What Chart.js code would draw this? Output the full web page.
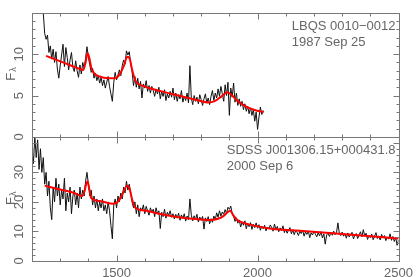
<!DOCTYPE html>
<html>
<head>
<meta charset="utf-8">
<script src="https://cdn.jsdelivr.net/npm/chart.js@4.4.1/dist/chart.umd.min.js"></script>
<style>
    html, body { margin: 0; padding: 0; background: #fff; }
</style>
</head>
<body>
<canvas id="spectra" width="418" height="277"></canvas>
<script>
// sampling of the observed spectra (Angstrom)
const step = 5;
const topStart = 1240;
const botStart = 1200;

// LBQS 0010-0012, 1987 Sep 25
const topFlux = [
    15.0, 12.5, 11.8, 12.3, 10.2, 11.0, 9.4, 10.6, 9.0, 10.3,
    8.2, 7.1, 8.6, 9.9, 11.2, 8.5, 10.8, 9.6, 8.1, 9.3,
    10.2, 8.4, 7.9, 9.2, 8.0, 7.2, 8.7, 7.6, 9.0, 8.3,
    9.5, 10.9, 9.6, 8.7, 7.8, 8.3, 7.1, 7.7, 6.8, 7.4,
    6.5, 7.2, 6.2, 6.9, 5.9, 6.6, 7.3, 6.1, 5.2, 4.3,
    6.6, 7.8, 6.9, 7.5, 8.1, 7.4, 8.6, 9.3, 8.8, 10.4,
    9.9, 10.3, 8.9, 7.9, 6.2, 7.3, 6.0, 7.1, 5.8, 6.7,
    4.7, 6.4, 5.9, 6.8, 5.5, 6.2, 5.3, 6.1, 5.6, 4.9,
    5.8, 5.2, 6.0, 4.6, 5.5, 4.9, 5.7, 4.4, 5.2, 4.7,
    5.5, 4.8, 5.9, 4.5, 5.3, 4.3, 5.1, 4.6, 5.6, 4.2,
    4.9, 4.4, 5.3, 4.1, 8.6, 4.7, 3.9, 5.0, 4.3, 4.8,
    4.0, 5.1, 4.5, 3.8, 4.6, 5.2, 4.1, 4.7, 3.9, 4.9,
    5.6, 4.4, 5.3, 4.7, 5.8, 4.9, 6.1, 5.2, 4.3, 6.3,
    5.0, 6.6, 2.6, 5.9, 4.8, 6.5, 4.2, 5.3, 3.8, 4.6,
    3.7, 4.3, 3.3, 4.0, 3.1, 3.7, 2.8, 3.5, 2.6, 3.3,
    1.9, 3.0, 0.9, 2.4, 3.6, 2.7, 3.2
];

// SDSS J001306.15+000431.8, 2000 Sep 6
const botFlux = [
    39, 33, 42, 35, 41, 31, 38, 30, 35, 26,
    30, 22, 27, 18, 14, 25, 20, 28, 22, 26,
    19, 24, 21, 28, 17, 23, 20, 25, 16, 22,
    24, 19, 23, 18, 25, 21, 24, 22, 27, 30,
    26, 22, 24, 19, 22, 18, 21, 17, 20, 18,
    21, 17, 19, 16, 20, 17, 12, 7.5, 19, 21,
    18, 22, 20, 23, 21, 25, 23, 27, 24, 26,
    23, 20, 18, 20, 16, 19, 15, 18, 17, 19,
    16, 18.5, 17, 15.5, 18, 16.5, 17.5, 15, 18, 16,
    17, 11, 16.5, 15, 17.5, 14.5, 16.5, 15.5, 17, 14.8,
    16, 14.2, 15.8, 14.5, 16.2, 13.8, 15.6, 14.4, 16, 13.5,
    15.2, 14, 21, 15.5, 13.6, 15.3, 14.1, 15.8, 13.2, 14.9,
    13.8, 15.1, 10.8, 14.6, 13.4, 15, 12.6, 14.3, 13.1, 15.2,
    14, 16.3, 14.8, 17, 15.2, 16.6, 15.8, 17.4, 16.1, 18.2,
    17.5, 18.6, 16, 15.1, 13.4, 14.6, 12.8, 13.9, 11.5, 13.2,
    12.1, 13.6, 10.9, 12.8, 11.6, 13, 10.7, 12.4, 11.3, 12.9,
    11.1, 12.3, 10.4, 11.8, 10.9, 12.1, 10.2, 11.5, 10.8, 12.2,
    11.4, 10.1, 12.5, 10.6, 11.7, 9.9, 11.2, 10.3, 11.9, 9.6,
    10.8, 9.4, 10.5, 11.3, 9.2, 10.6, 8.9, 10.2, 9.7, 8.6,
    10.1, 9.3, 10.4, 8.4, 9.8, 9.0, 10.2, 7.9, 9.5, 8.8,
    10.0, 9.1, 8.2, 9.6, 8.5, 9.9, 7.8, 9.2, 5.7, 8.8,
    9.4, 8.3, 9.7, 8.7, 10.1, 8.9, 9.6, 12.9, 9.3, 8.6,
    9.8, 8.4, 9.2, 7.7, 9.5, 8.1, 8.9, 9.7, 7.5, 8.7,
    9.3, 7.6, 8.8, 9.9, 8.2, 10.6, 8.5, 9.4, 7.3, 8.6,
    7.9, 9.1, 7.2, 8.4, 9.6, 7.6, 8.5, 7.1, 9.0, 7.8,
    8.6, 6.9, 8.1, 7.4, 9.2, 7.0, 8.3, 6.6, 7.9, 5.3,
    7.2
];

// red model fits
const topFitWave = [1250, 1280, 1310, 1340, 1370, 1382, 1390, 1397, 1403, 1410,
    1420, 1440, 1470, 1495, 1512, 1526, 1538, 1546, 1556, 1567,
    1600, 1660, 1720, 1780, 1825, 1850, 1872, 1893, 1910, 1930,
    1963, 1995, 2022];
const topFitFlux = [9.8, 9.4, 9.0, 8.6, 8.2, 8.1, 9.0, 10.1, 9.6, 8.4,
    7.7, 7.3, 7.1, 7.1, 7.6, 8.6, 9.7, 9.5, 8.0, 6.8,
    6.1, 5.5, 5.0, 4.5, 4.15, 4.35, 4.9, 5.4, 5.0, 4.3,
    3.6, 3.2, 3.0];
const botFitWave = [1245, 1300, 1350, 1378, 1386, 1392, 1397, 1403, 1410, 1440,
    1484, 1500, 1515, 1527, 1537, 1546, 1556, 1567, 1605, 1660,
    1720, 1780, 1833, 1860, 1880, 1903, 1915, 1928, 1973, 2043,
    2150, 2267, 2400, 2500];
const botFitFlux = [25.5, 24.2, 23.0, 22.0, 23.5, 26.0, 27.0, 24.5, 21.3, 20.3,
    19.4, 19.7, 21.5, 24.0, 25.5, 24.5, 20.5, 18.0, 17.0, 15.8,
    14.8, 14.2, 13.9, 14.3, 15.3, 17.0, 15.3, 13.9, 12.3, 11.0,
    10.2, 9.4, 8.4, 7.6];

const xTickLabels = [1500, 2000, 2500];
const topTickLabels = [0, 5, 10];
const botTickLabels = [0, 10, 20, 30];

const topTitle = ["LBQS 0010\u22120012", "1987 Sep 25"];
const botTitle = ["SDSS J001306.15+000431.8", "2000 Sep 6"];

const gray = "#666";
const axisGray = "#777";
const fontFamily = "'Liberation Sans', Arial, sans-serif";

function toPoints (xs, ys) {
    return ys.map((y, i) => ({ x: xs[i], y: y }));
}
function grid (start, n) {
    const xs = [];
    for (let i = 0; i < n; i++) xs.push(start + i * step);
    return xs;
}

function yAxis (min, max, labels, weight) {
    return {
        type: "linear",
        position: "left",
        stack: "panels",
        stackWeight: 1,
        weight: weight,
        min: min,
        max: max,
        grid: { display: false, drawTicks: false },
        border: { display: false },
        afterBuildTicks: (s) => { s.ticks = labels.map((v) => ({ value: v })); },
        afterFit: (s) => { s.width = 32; },
        ticks: {
            color: gray,
            font: { family: fontFamily, size: 13 },
            minRotation: 90,
            maxRotation: 90,
            crossAlign: "center",
            padding: 5,
            callback: (v) => String(v),
        },
    };
}

// frame, inward tick marks, F_lambda labels and object names
const framePlugin = {
    id: "frame",
    afterDraw (chart) {
        const ctx = chart.ctx;
        const x = chart.scales.x;
        const panels = [
            { y: chart.scales.yTop, minor: 1, major: 5, title: topTitle },
            { y: chart.scales.yBot, minor: 2, major: 10, title: botTitle },
        ];
        ctx.save();
        ctx.strokeStyle = axisGray;
        ctx.lineWidth = 1;
        panels.forEach((p) => {
            const y = p.y;
            const top = Math.round(y.top) + 0.5;
            const bottom = Math.round(y.bottom) + 0.5;
            const left = Math.round(x.left) + 0.5;
            const right = Math.round(x.right) + 0.5;
            ctx.beginPath();
            ctx.rect(left, top, right - left, bottom - top);
            // x ticks, every 100 A
            for (let v = x.min; v <= x.max; v += 100) {
                const px = Math.round(x.getPixelForValue(v)) + 0.5;
                const len = v % 500 === 0 ? 6 : 3;
                ctx.moveTo(px, top);
                ctx.lineTo(px, top + len);
                ctx.moveTo(px, bottom);
                ctx.lineTo(px, bottom - len);
            }
            // y ticks
            for (let v = y.min; v <= y.max; v += p.minor) {
                const py = Math.round(y.getPixelForValue(v)) + 0.5;
                const len = v % p.major === 0 ? 6 : 3;
                ctx.moveTo(left, py);
                ctx.lineTo(left + len, py);
                ctx.moveTo(right, py);
                ctx.lineTo(right - len, py);
            }
            ctx.stroke();

            // F_lambda axis title
            const cy = (y.top + y.bottom) / 2;
            ctx.fillStyle = gray;
            ctx.save();
            ctx.translate(11, cy + 2);
            ctx.rotate(-Math.PI / 2);
            ctx.textBaseline = "middle";
            ctx.textAlign = "center";
            ctx.font = "13px " + fontFamily;
            ctx.fillText("F", 0, 0);
            ctx.textAlign = "left";
            ctx.font = "9px " + fontFamily;
            ctx.fillText("\u03bb", 5, 3);
            ctx.restore();

            // object name and date
            ctx.font = "13px " + fontFamily;
            ctx.textAlign = "left";
            ctx.textBaseline = "middle";
            const w = ctx.measureText(p.title[0]).width;
            const tx = right - 4 - w;
            ctx.fillText(p.title[0], tx, y.top + 14);
            ctx.fillText(p.title[1], tx, y.top + 29.5);
        });
        ctx.restore();
    },
};

const ctxSpec = document.getElementById("spectra").getContext("2d");
const chartSpec = new Chart(ctxSpec, {
    type: "line",
    data: {
        datasets: [
            {
                data: toPoints(topFitWave, topFitFlux),
                yAxisID: "yTop",
                borderColor: "#ff0000",
                borderWidth: 2,
                pointRadius: 0,
                cubicInterpolationMode: "monotone",
                order: 0,
            },
            {
                data: toPoints(botFitWave, botFitFlux),
                yAxisID: "yBot",
                borderColor: "#ff0000",
                borderWidth: 2,
                pointRadius: 0,
                cubicInterpolationMode: "monotone",
                order: 0,
            },
            {
                data: toPoints(grid(topStart, topFlux.length), topFlux),
                yAxisID: "yTop",
                borderColor: "#111",
                borderWidth: 1,
                pointRadius: 0,
                tension: 0,
                order: 1,
            },
            {
                data: toPoints(grid(botStart, botFlux.length), botFlux),
                yAxisID: "yBot",
                borderColor: "#111",
                borderWidth: 1,
                pointRadius: 0,
                tension: 0,
                order: 1,
            },
        ],
    },
    options: {
        responsive: false,
        animation: false,
        layout: { padding: { top: 1, right: 15, bottom: 0, left: 0 } },
        plugins: {
            legend: { display: false },
            tooltip: { enabled: false },
        },
        scales: {
            x: {
                type: "linear",
                min: 1200,
                max: 2500,
                grid: { display: false, drawTicks: false },
                border: { display: false },
                afterBuildTicks: (s) => { s.ticks = xTickLabels.map((v) => ({ value: v })); },
                afterFit: (s) => { s.height = 16; },
                ticks: {
                    color: gray,
                    font: { family: fontFamily, size: 13 },
                    padding: 5,
                    maxRotation: 0,
                    autoSkip: false,
                    callback: (v) => String(v),
                },
            },
            yTop: yAxis(0, 15, topTickLabels, 2),
            yBot: yAxis(0, 42, botTickLabels, 1),
        },
    },
    plugins: [framePlugin],
});
</script>
</body>
</html>
